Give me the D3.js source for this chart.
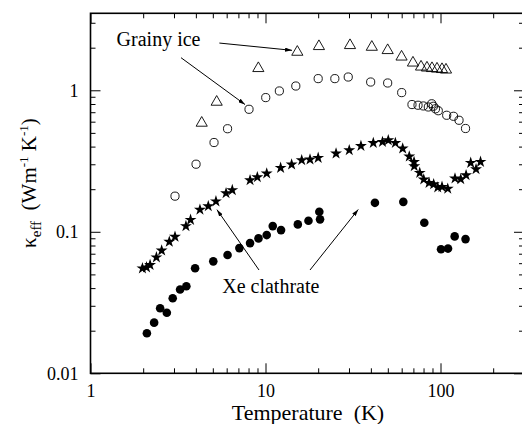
<!DOCTYPE html>
<html><head><meta charset="utf-8">
<script src="https://cdn.jsdelivr.net/npm/d3@7"></script>
<style>body{margin:0;background:#fff}svg{display:block}</style>
</head><body><svg id="c" width="522" height="424"></svg>
<script>
// ---- data (T in K, kappa in W m^-1 K^-1) ----
const triT = [4.32,5.26,9.10,15.2,20.2,30.4,40.5,49.9,59.9,69.6,77.4,83.7,89.4,95.5,102,107.5];
const triK = [0.597,0.840,1.453,1.894,2.078,2.112,2.054,1.947,1.752,1.589,1.489,1.465,1.453,1.441,1.43,1.418];

const ocT = [3.04,4.01,5.08,6.07,8.05,10.03,12.0,14.9,20.0,24.9,29.7,39.9,49.9,60.0,68.7,74.4,79.8,85.2,89.1,91.0,93.6,97.1,108.5,118.7,127.6,139];
const ocK = [0.1786,0.3004,0.4275,0.535,0.734,0.888,0.989,1.072,1.209,1.209,1.241,1.144,1.126,0.963,0.793,0.784,0.775,0.762,0.803,0.771,0.740,0.717,0.666,0.655,0.614,0.537];

const starT = [1.98,2.09,2.19,2.38,2.55,2.82,3.04,3.51,3.73,4.22,4.71,5.21,5.95,6.46,8.16,8.98,10.16,12.2,14.1,16.1,17.96,20.0,25.3,30.1,35.1,41.3,46.6,50.3,55.2,60.8,66.3,70.6,70.8,76.1,80.2,86.0,91.4,96.4,102,110,121,130.5,140,148.8,159.6,169.3];
const starK = [0.0552,0.0561,0.0582,0.066,0.0737,0.085,0.0922,0.1097,0.1215,0.1434,0.1518,0.1641,0.1875,0.197,0.2317,0.2432,0.2583,0.283,0.299,0.3206,0.3243,0.333,0.3575,0.3773,0.4044,0.4246,0.4315,0.4436,0.4246,0.3878,0.3404,0.3119,0.2908,0.2609,0.2343,0.2217,0.2171,0.2057,0.2077,0.2017,0.2381,0.2354,0.2513,0.307,0.277,0.312];

const fcT = [2.10,2.31,2.50,2.73,2.95,3.25,3.53,3.96,5.03,6.07,7.09,8.16,9.12,10.16,11.0,12.27,15.3,17.6,20.3,20.5,42.2,61.3,80.8,100.7,110.4,120.5,139];
const fcK = [0.0192,0.0228,0.0288,0.0268,0.0339,0.0391,0.0412,0.0552,0.0618,0.0685,0.0767,0.0832,0.0898,0.0948,0.1097,0.1028,0.1128,0.1196,0.1384,0.1224,0.1602,0.1628,0.1158,0.0752,0.0761,0.0928,0.0888];

const xMajor = [1,10,100];
const xMinor = [2,3,4,5,6,7,8,9,20,30,40,50,60,70,80,90,200];
const yMajor = [0.01,0.1,1];
const yMinor = [0.02,0.03,0.04,0.05,0.06,0.07,0.08,0.09,0.2,0.3,0.4,0.5,0.6,0.7,0.8,0.9,2,3];
const xTickLabels = ["1","10","100"];
const yTickLabels = ["0.01","0.1","1"];

// annotations in data coordinates
const notes = [
  {text:"Grainy ice", T:1.41, k:2.06},
  {text:"Xe clathrate", T:5.66, k:0.0367}
];
const arrows = [
  {T1:5.45,k1:2.157,T2:14.17,k2:1.916},
  {T1:3.29,k1:1.70,T2:7.64,k2:0.793},
  {T1:9.18,k1:0.0537,T2:5.28,k2:0.1434},
  {T1:17.96,k1:0.0537,T2:33.9,k2:0.1439}
];

// ---- drawing ----
const FONT = "'Liberation Serif', 'Times New Roman', Tinos, serif";
const svg = d3.select("#c");
const L=90.5, R=524, T=13.3, B=373.3;
const x = d3.scaleLog().domain([1,300]).range([L,R]);
const y = d3.scaleLog().domain([0.01,3.5]).range([B,T]);

function zip(a,b){return a.map((v,i)=>({T:v,k:b[i]}));}

const axes = svg.append("g").attr("class","axes");
function styleAxis(g){
  g.select(".domain").remove();
  g.selectAll("line").attr("stroke","#000").attr("stroke-width",1);
  g.selectAll("text").style("font-family",FONT).style("font-size","18px").attr("fill","#000");
}
axes.append("g").attr("transform",`translate(0,${B})`)
  .call(d3.axisBottom(x).tickValues(xMajor).tickFormat((d,i)=>xTickLabels[i]).tickSize(-10).tickPadding(11)).call(styleAxis);
axes.append("g").attr("transform",`translate(0,${B})`)
  .call(d3.axisBottom(x).tickValues(xMinor).tickFormat("").tickSize(-5)).call(styleAxis);
axes.append("g").attr("transform",`translate(0,${T})`)
  .call(d3.axisTop(x).tickValues(xMajor).tickFormat("").tickSize(-10)).call(styleAxis);
axes.append("g").attr("transform",`translate(0,${T})`)
  .call(d3.axisTop(x).tickValues(xMinor).tickFormat("").tickSize(-5)).call(styleAxis);
axes.append("g").attr("transform",`translate(${L},0)`)
  .call(d3.axisLeft(y).tickValues(yMajor).tickFormat((d,i)=>yTickLabels[i]).tickSize(-10).tickPadding(12)).call(styleAxis);
axes.append("g").attr("transform",`translate(${L},0)`)
  .call(d3.axisLeft(y).tickValues(yMinor).tickFormat("").tickSize(-5)).call(styleAxis);
axes.append("g").attr("transform",`translate(${R},0)`)
  .call(d3.axisRight(y).tickValues(yMajor).tickFormat("").tickSize(-10)).call(styleAxis);
axes.append("g").attr("transform",`translate(${R},0)`)
  .call(d3.axisRight(y).tickValues(yMinor).tickFormat("").tickSize(-5)).call(styleAxis);

svg.append("rect").attr("x",L).attr("y",T).attr("width",R-L).attr("height",B-T)
  .attr("fill","none").attr("stroke","#000").attr("stroke-width",1.6);

const plot = svg.append("g");
plot.selectAll("path.tri").data(zip(triT,triK)).join("path").attr("class","tri")
  .attr("d",d3.symbol().type(d3.symbolTriangle).size(54))
  .attr("transform",d=>`translate(${x(d.T)},${y(d.k)+1})`)
  .attr("fill","none").attr("stroke","#000").attr("stroke-width",0.9);
plot.selectAll("circle.oc").data(zip(ocT,ocK)).join("circle").attr("class","oc")
  .attr("cx",d=>x(d.T)).attr("cy",d=>y(d.k)).attr("r",4.1)
  .attr("fill","none").attr("stroke","#000").attr("stroke-width",0.9);
plot.selectAll("path.star").data(zip(starT,starK)).join("path").attr("class","star")
  .attr("d",d3.symbol().type(d3.symbolStar).size(44))
  .attr("transform",d=>`translate(${x(d.T)},${y(d.k)})`)
  .attr("fill","#000");
plot.selectAll("circle.fc").data(zip(fcT,fcK)).join("circle").attr("class","fc")
  .attr("cx",d=>x(d.T)).attr("cy",d=>y(d.k)).attr("r",4.3).attr("fill","#000");

svg.append("defs").append("marker").attr("id","ah").attr("viewBox","0 0 10 6")
  .attr("refX",10).attr("refY",3).attr("markerWidth",7).attr("markerHeight",4.2)
  .attr("markerUnits","userSpaceOnUse").attr("orient","auto")
  .append("path").attr("d","M0,0L10,3L0,6Z").attr("fill","#000");
svg.selectAll("line.arr").data(arrows).join("line").attr("class","arr")
  .attr("x1",d=>x(d.T1)).attr("y1",d=>y(d.k1)).attr("x2",d=>x(d.T2)).attr("y2",d=>y(d.k2))
  .attr("stroke","#000").attr("stroke-width",1).attr("marker-end","url(#ah)");

svg.selectAll("text.note").data(notes).join("text").attr("class","note")
  .attr("x",d=>x(d.T)).attr("y",d=>y(d.k)).style("font-family",FONT).style("font-size","20px").text(d=>d.text);

svg.append("text").attr("x",308).attr("y",420).attr("text-anchor","middle").style("font-family",FONT)
  .style("font-size","22px").style("white-space","pre").text("Temperature  (K)");
const yl = svg.append("text").attr("transform","translate(36,183) rotate(-90)").style("font-family",FONT)
  .attr("text-anchor","middle").style("font-size","21px").style("white-space","pre");
yl.append("tspan").text("κ");
yl.append("tspan").attr("dy",5).style("font-size","15px").text("eff");
yl.append("tspan").attr("dy",-5).text("  (Wm");
yl.append("tspan").attr("dy",-8).style("font-size","13px").text("-1");
yl.append("tspan").attr("dy",8).text(" K");
yl.append("tspan").attr("dy",-8).style("font-size","13px").text("-1");
yl.append("tspan").attr("dy",8).text(")");
</script></body></html>
